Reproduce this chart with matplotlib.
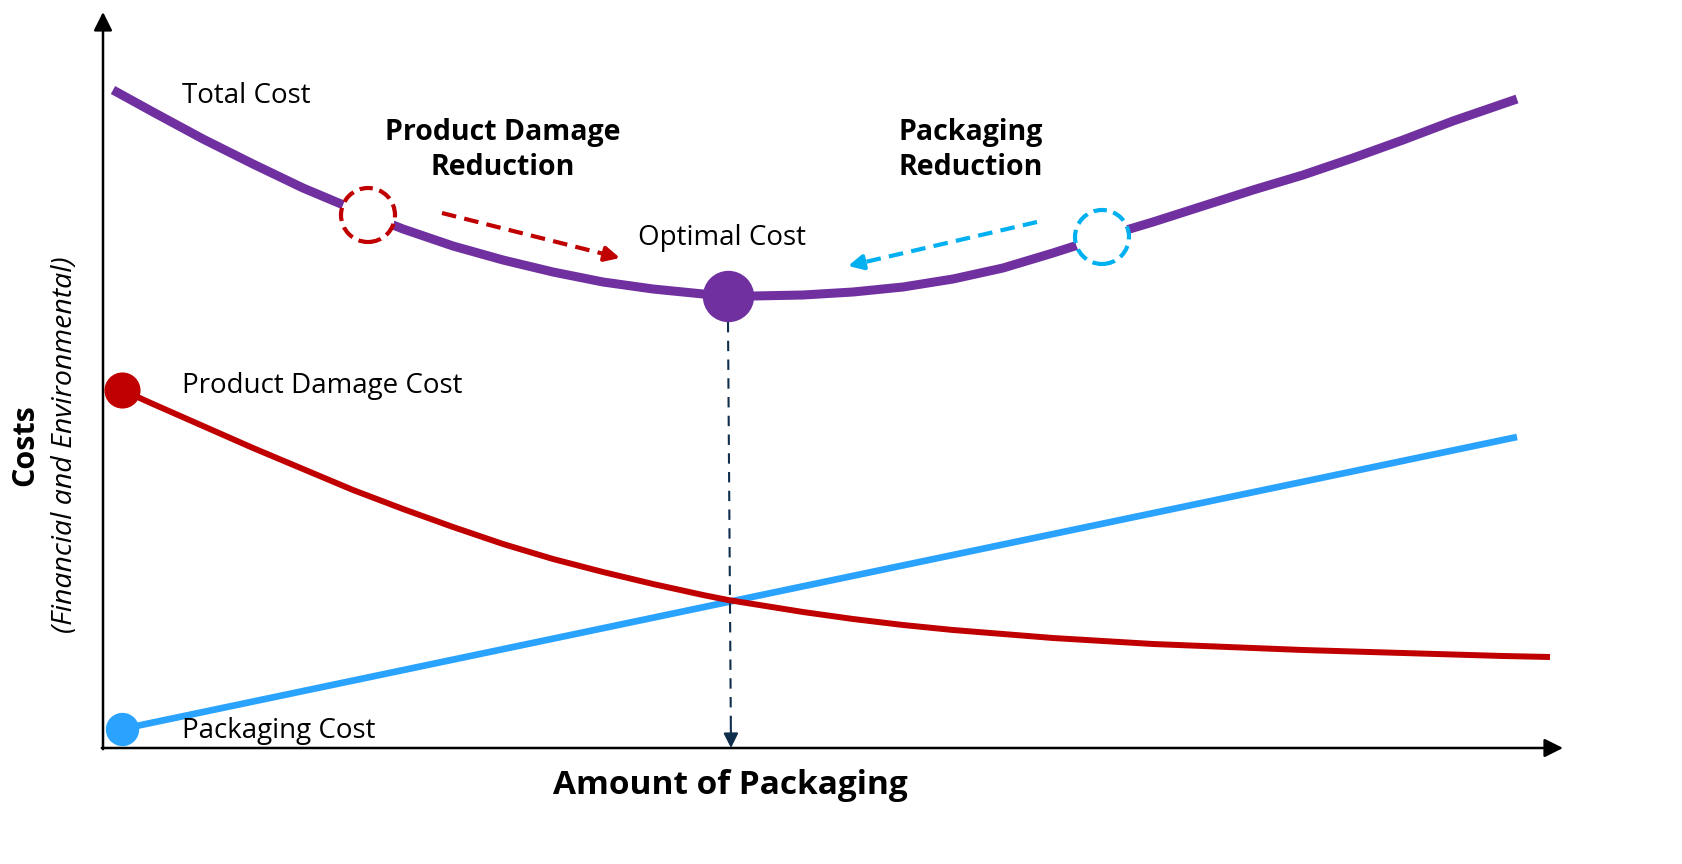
import matplotlib
matplotlib.use("Agg")
import matplotlib.pyplot as plt
from matplotlib.patches import Circle

plt.rcParams['font.family'] = ['Open Sans', 'DejaVu Sans']

# amount of packaging (x) and costs (y)
total_x = [0.10, 0.5, 1.0, 1.5, 2.0, 2.5, 3.0, 3.5, 4.0, 4.5, 5.0, 5.5, 6.0, 6.25, 6.5,
           7.0, 7.5, 8.0, 8.5, 9.0, 9.5, 10.0, 10.5, 11.0, 11.5, 12.0, 12.5, 13.0, 13.5, 14.14]
total_y = [6.58, 6.36, 6.09, 5.84, 5.60, 5.39, 5.19, 5.02, 4.88, 4.76, 4.66, 4.59, 4.54, 4.52, 4.52,
           4.53, 4.56, 4.61, 4.69, 4.80, 4.95, 5.11, 5.26, 5.42, 5.58, 5.73, 5.90, 6.08, 6.27, 6.49]

damage_x = [0.19, 0.5, 1.0, 1.5, 2.0, 2.5, 3.0, 3.5, 4.0, 4.5, 5.0, 5.5, 6.0, 6.25, 6.5, 7.0,
            7.5, 8.0, 8.5, 9.0, 9.5, 10.0, 10.5, 11.0, 11.5, 12.0, 12.5, 13.0, 13.5, 14.0, 14.47]
damage_y = [3.58, 3.44, 3.22, 3.00, 2.79, 2.58, 2.39, 2.21, 2.04, 1.89, 1.76, 1.64, 1.53, 1.48, 1.44, 1.36,
            1.29, 1.23, 1.18, 1.14, 1.10, 1.07, 1.04, 1.02, 1.00, 0.98, 0.965, 0.95, 0.935, 0.92, 0.91]

pack_x = [0.19, 6.25, 14.14]
pack_y = [0.19, 1.46, 3.11]

optimal_x, optimal_y = 6.25, 4.52
damage_mark = (2.65, 5.33)
pack_mark = (9.99, 5.11)

PURPLE = '#7030A0'
RED = '#C00000'
BLUE = '#2AA3FF'
CYAN = '#00B0F0'
NAVY = '#0E2E4C'

fig = plt.figure(figsize=(16.83, 8.64), dpi=100)
ax = fig.add_axes([0, 0, 1, 1])
ax.set_xlim(-1.03, 15.80)
ax.set_ylim(-1.16, 7.48)
ax.axis('off')

# axes with arrows
ax.annotate('', xy=(0, 7.36), xytext=(0, -0.012),
            arrowprops=dict(arrowstyle='-|>', lw=1.8, color='black', mutation_scale=28,
                            shrinkA=0, shrinkB=0))
ax.annotate('', xy=(14.6, 0), xytext=(-0.012, 0),
            arrowprops=dict(arrowstyle='-|>', lw=1.8, color='black', mutation_scale=28,
                            shrinkA=0, shrinkB=0))

# curves
ax.plot(pack_x, pack_y, color=BLUE, lw=4.8, solid_capstyle='butt', zorder=3)
ax.plot(damage_x, damage_y, color=RED, lw=4.3, solid_capstyle='butt',
        solid_joinstyle='round', zorder=3)
ax.plot(total_x, total_y, color=PURPLE, lw=6.5, solid_capstyle='butt',
        solid_joinstyle='round', zorder=3)

ax.plot(pack_x[0], pack_y[0], 'o', ms=24, color=BLUE, mec='none', zorder=4)
ax.plot(damage_x[0], damage_y[0], 'o', ms=26, color=RED, mec='none', zorder=4)
ax.plot(optimal_x, optimal_y, 'o', ms=37, color=PURPLE, mec='none', zorder=5)

# dashed circles on total cost
for (cx, cy), col in [(damage_mark, RED), (pack_mark, CYAN)]:
    ax.add_patch(Circle((cx, cy), 0.27, facecolor='white', edgecolor=col, lw=3,
                        linestyle=(0, (3.2, 1.6)), zorder=6))

# dashed direction arrows
def dashed_arrow(x0, y0, x1, y1, col, lw, dash, head):
    fx = x0 + (x1 - x0) * 0.93
    fy = y0 + (y1 - y0) * 0.93
    ax.plot([x0, fx], [y0, fy], color=col, lw=lw, linestyle=(0, dash), zorder=6)
    ax.annotate('', xy=(x1, y1), xytext=(fx, fy),
                arrowprops=dict(arrowstyle='-|>', lw=lw, color=col, mutation_scale=head,
                                shrinkA=0, shrinkB=0), zorder=6)

dashed_arrow(3.39, 5.35, 5.17, 4.90, RED, 3.0, (3.5, 2.0), 22)
dashed_arrow(9.34, 5.26, 7.45, 4.82, CYAN, 3.0, (3.5, 2.0), 22)
dashed_arrow(optimal_x, 4.26, optimal_x + 0.03, 0.0, NAVY, 1.5, (5, 4), 22)

# labels
fs = 20
ax.text(0.79, 6.52, 'Total Cost', fontsize=fs, va='center', ha='left')
ax.text(0.79, 3.62, 'Product Damage Cost', fontsize=fs, va='center', ha='left')
ax.text(0.79, 0.17, 'Packaging Cost', fontsize=fs, va='center', ha='left')
ax.text(5.35, 5.10, 'Optimal Cost', fontsize=fs, va='center', ha='left')
ax.text(4.00, 5.98, 'Product Damage\nReduction', fontsize=20.5, fontweight='bold',
        va='center', ha='center', linespacing=1.3)
ax.text(8.68, 5.98, 'Packaging\nReduction', fontsize=20.5, fontweight='bold',
        va='center', ha='center', linespacing=1.3)
ax.text(6.27, -0.37, 'Amount of Packaging', fontsize=24, fontweight='bold',
        va='center', ha='center')
ax.text(-0.78, 3.03, 'Costs', fontsize=22, fontweight='bold', rotation=90,
        va='center', ha='center')
ax.text(-0.38, 3.03, '(Financial and Environmental)', fontsize=20.5, fontstyle='italic',
        rotation=90, va='center', ha='center')

fig.savefig('out.png', dpi=100, facecolor='white')
